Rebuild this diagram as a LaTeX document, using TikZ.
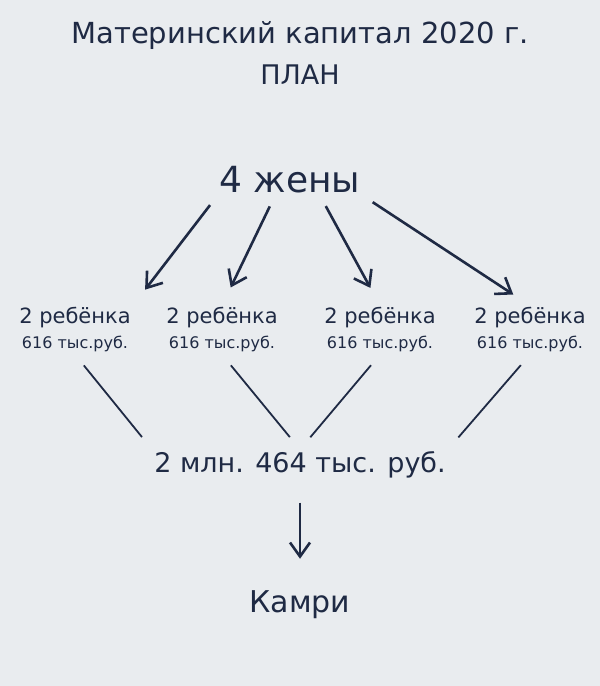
\documentclass[tikz,border=0pt]{standalone}
\usepackage{fontspec}
\setmainfont{DejaVu Sans}
\usetikzlibrary{positioning,arrows.meta}
\definecolor{ink}{HTML}{1F2A44}
\definecolor{paper}{HTML}{E9ECEF}
\tikzset{
	txt/.style={text=ink,inner sep=2pt},
	kid/.style={txt,align=center,font=\fontsize{21}{23}\selectfont},
	arr/.style={draw=ink,line width=2.6pt,-{Straight Barb[length=14pt,width=20pt]},shorten <=12pt,shorten >=20pt},
	lnk/.style={draw=ink,line width=1.8pt,shorten <=14pt,shorten >=16pt}
}
\begin{document}
\begin{tikzpicture}[x=1pt,y=-1pt]
	\fill[paper] (0,0) rectangle (600,686);
	\node[txt,font=\fontsize{29}{33}\selectfont] (title) at (300,35) {Материнский капитал 2020 г.};
	\node[txt,font=\fontsize{27}{31}\selectfont] (plan) at (300,75) {ПЛАН};
	\node[txt,font=\fontsize{36}{40}\selectfont] (wives) at (290,180) {4 жены};

	\node[kid] (c1) at (75,330) {2 ребёнка\\[2pt]{\fontsize{16}{18}\selectfont 616 тыс.руб.}};
	\node[kid] (c2) at (222,330) {2 ребёнка\\[2pt]{\fontsize{16}{18}\selectfont 616 тыс.руб.}};
	\node[kid] (c3) at (380,330) {2 ребёнка\\[2pt]{\fontsize{16}{18}\selectfont 616 тыс.руб.}};
	\node[kid] (c4) at (530,330) {2 ребёнка\\[2pt]{\fontsize{16}{18}\selectfont 616 тыс.руб.}};

	\node[txt,font=\fontsize{27}{31}\selectfont] (sum) at (300,465) {2 млн. 464 тыс. руб.};
	\node[txt,font=\fontsize{30}{34}\selectfont] (car) at (300,605) {Камри};

	\path[arr] (wives.south west) -- (c1.north east);
	\path[arr] (wives.south) ++(-15,0) coordinate (w2) (w2) -- (c2.north);
	\path[arr] (wives.south) ++(30,0) coordinate (w3) (w3) -- (c3.north);
	\path[arr] (wives.south east) -- (c4.north);

	\path[lnk] (c1.south) -- (sum.north west);
	\path[lnk] (c2.south) -- (sum.north);
	\path[lnk] (c3.south) -- (sum.north);
	\path[lnk] (c4.south) -- (sum.north east);

	\path[arr,shorten <=22pt,shorten >=30pt] (sum) -- (car);
\end{tikzpicture}
\end{document}
